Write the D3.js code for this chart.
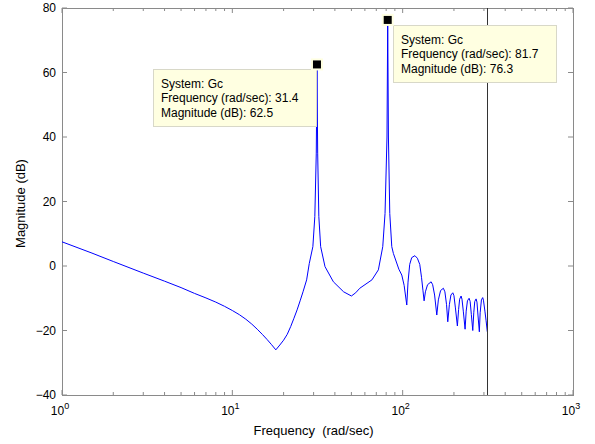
<!DOCTYPE html>
<meta charset="utf-8">
<title>Bode magnitude - Gc</title>
<style>
*{
  margin: 0;
  padding: 0;
}
body{
  background: #fff;
  font-family: "Liberation Sans", Arial, sans-serif;
}
.frame{
  fill: none;
  stroke: #8a8a8a;
}
.tick line{
  stroke: #8a8a8a;
}
.ticklabel{
  font-size: 12px;
  fill: #000;
}
.axislabel{
  font-size: 13px;
  fill: #000;
}
.tip rect.box{
  fill: #ffffe1;
  stroke: #d8d8c8;
}
.tip text{
  font-size: 12px;
  fill: #000;
}
</style>
<body>
<script src="https://d3js.org/d3.v7.min.js"></script>
<div id="chart"></div>
<script>

var width = 595,
    height = 444;

// frequency response (rad/sec, dB)
var freq = [1, 1.5, 2, 3, 4, 5, 6, 7, 8, 9, 10, 11, 12, 13, 14, 15, 16, 17, 18, 19, 20, 21, 22, 23, 24, 25, 26,
            27.3, 28.3, 29.7, 30.5, 31.1, 31.4, 31.7, 32.2,
            33, 35, 39.2, 45, 50, 53, 56, 66, 72, 76.4, 78.8, 80.9, 81.7, 82.5, 84, 86.3, 88.2, 95, 98.8,
            102, 105.7, 107.5, 110, 113, 118, 122, 126, 129, 131.5, 133.6,
            136, 140, 146.9, 150, 154, 158.6,
            162, 167, 173.4, 177, 181, 184,
            188, 192, 196.9, 200, 204, 209.5,
            213, 216, 220.3, 223, 227, 232.5,
            236, 240, 245.5, 249, 253, 258,
            261.5, 265, 269.8, 273, 277, 282,
            285, 290, 295, 298, 304, 309, 314];
var mag = [7.5, 4.0, 1.4, -2.2, -4.7, -6.7, -8.5, -9.9, -11.2, -12.5, -13.8, -15.1, -16.5, -18.0, -19.6, -21.2, -22.8, -24.4, -26.0, -24.5, -23.0, -21.2, -18.8, -16.2, -13.6, -10.8, -8.0,
           -4.3, 0.8, 6.0, 15.3, 35, 62.5, 35, 15.3,
           6.0, -0.2, -4.9, -8.0, -9.3, -8.3, -6.9, -4.3, -1.2, 6.0, 16.3, 40, 76.3, 40, 16.3, 6.0, 3.9, -1.0, -2.8,
           -6, -12.1, -5, 0.5, 2.6, 3.2, 2.4, 0.5, -3.5, -7.5, -10.8,
           -8, -5.8, -4.9, -5.8, -9, -15.2,
           -10.5, -7.6, -6.9, -8, -12, -17.3,
           -12, -9, -8.3, -9.2, -13, -18.6,
           -13.5, -10.3, -9.3, -10.3, -14, -19.6,
           -14, -10.8, -10.0, -11, -15, -20,
           -14.5, -11, -10.2, -11.2, -15.5, -20.4,
           -14.5, -10.5, -9.8, -10.6, -14, -17, -20.4];

var yTicks = [-40, -20, 0, 20, 40, 60, 80];
var xDecades = [1, 10, 100, 1000];
var nyquist = 314.16;

// data tips
var tipFreq = [31.4, 81.7];
var tipMag = [62.5, 76.3];

var margin = {left: 62, right: 22, top: 8, bottom: 49};

var x = d3.scaleLog()
    .domain([1, 1000])
    .range([margin.left, width - margin.right]);

var y = d3.scaleLinear()
    .domain([-40, 80])
    .range([height - margin.bottom, margin.top]);

var svg = d3.select("#chart").append("svg")
    .attr("width", width)
    .attr("height", height);

var x0 = x.range()[0], x1 = x.range()[1],
    y0 = y.range()[0], y1 = y.range()[1];

/* ticks, all four sides pointing inward */
var minor = [];
xDecades.slice(0, 3).forEach(function(d){
  for(var k = 2; k < 10; k++) minor.push(d * k);
});

var ticks = svg.append("g").attr("class", "tick");
xDecades.forEach(function(d){
  ticks.append("line").attr("x1", x(d)).attr("x2", x(d)).attr("y1", y0).attr("y2", y0 - 5);
  ticks.append("line").attr("x1", x(d)).attr("x2", x(d)).attr("y1", y1).attr("y2", y1 + 5);
});
minor.forEach(function(d){
  ticks.append("line").attr("x1", x(d)).attr("x2", x(d)).attr("y1", y0).attr("y2", y0 - 3);
  ticks.append("line").attr("x1", x(d)).attr("x2", x(d)).attr("y1", y1).attr("y2", y1 + 3);
});
yTicks.forEach(function(d){
  ticks.append("line").attr("x1", x0).attr("x2", x0 + 5).attr("y1", y(d)).attr("y2", y(d));
  ticks.append("line").attr("x1", x1).attr("x2", x1 - 5).attr("y1", y(d)).attr("y2", y(d));
});

svg.append("rect")
  .attr("class", "frame")
  .attr("x", x0 + 0.5)
  .attr("y", y1 + 0.5)
  .attr("width", x1 - x0)
  .attr("height", y0 - y1);

/* tick labels */
svg.selectAll(".ylab")
  .data(yTicks)
  .enter().append("text")
  .attr("class", "ticklabel")
  .attr("x", x0 - 6)
  .attr("y", function(d){ return y(d); })
  .attr("dy", "0.35em")
  .attr("text-anchor", "end")
  .text(function(d){ return d < 0 ? "\u2212" + Math.abs(d) : d; });

var xl = svg.selectAll(".xlab")
  .data(xDecades)
  .enter().append("text")
  .attr("class", "ticklabel")
  .attr("x", function(d){ return x(d) - 2; })
  .attr("y", y0 + 20)
  .attr("text-anchor", "middle");
xl.append("tspan").text("10");
xl.append("tspan")
  .attr("dy", -6)
  .style("font-size", "9px")
  .text(function(d){ return Math.round(Math.log10(d)); });

svg.append("text")
  .attr("class", "axislabel")
  .attr("x", (x0 + x1) / 2 - 4)
  .attr("y", y0 + 40)
  .attr("text-anchor", "middle")
  .attr("xml:space", "preserve")
  .style("white-space", "pre")
  .text("Frequency  (rad/sec)");

svg.append("text")
  .attr("class", "axislabel")
  .attr("transform", "translate(25," + ((y0 + y1) / 2 + 2) + ") rotate(-90)")
  .attr("text-anchor", "middle")
  .text("Magnitude (dB)");

/* response curve */
var pts = freq.map(function(f, i){ return [f, mag[i]]; });

var line = d3.line()
  .x(function(d){ return x(d[0]); })
  .y(function(d){ return y(d[1]); });

svg.append("path")
  .datum(pts)
  .attr("d", line)
  .attr("fill", "none")
  .attr("stroke", "#0000ff")
  .attr("stroke-width", 1);

/* Nyquist line */
svg.append("line")
  .attr("x1", Math.round(x(nyquist)) + 0.5)
  .attr("x2", Math.round(x(nyquist)) + 0.5)
  .attr("y1", y0)
  .attr("y2", y1)
  .attr("stroke", "#333")
  .attr("stroke-width", 1);

/* data tips */
var boxW = 163, boxH = 57;
var tipBox = [[153, 69], [393, 25]]; // top-left of each text box

tipFreq.forEach(function(f, i){
  var g = svg.append("g").attr("class", "tip");
  var bx = tipBox[i][0], by = tipBox[i][1];
  g.append("rect")
    .attr("class", "box")
    .attr("x", bx + 0.5)
    .attr("y", by + 0.5)
    .attr("width", boxW)
    .attr("height", boxH);
  var lines = ["System: Gc",
               "Frequency (rad/sec): " + f,
               "Magnitude (dB): " + tipMag[i]];
  lines.forEach(function(t, j){
    g.append("text")
      .attr("x", bx + 8)
      .attr("y", by + 19 + j * 14.3)
      .text(t);
  });
  // marker
  var mx = x(f), my = y(tipMag[i]);
  g.append("rect")
    .attr("x", mx - 6)
    .attr("y", my - 6)
    .attr("width", 12)
    .attr("height", 12)
    .attr("fill", "#ffffe1");
  g.append("rect")
    .attr("x", mx - 4)
    .attr("y", my - 4)
    .attr("width", 8)
    .attr("height", 8)
    .attr("fill", "#000");
});

</script>
</body>
</html>
